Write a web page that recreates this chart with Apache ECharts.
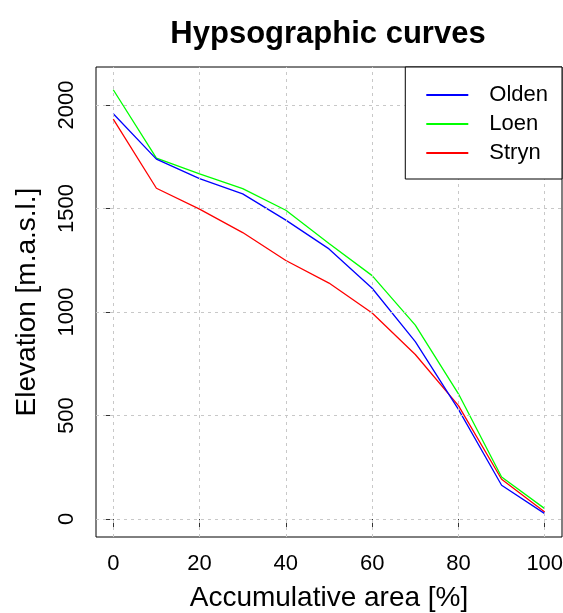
<!DOCTYPE html>
<html>
<head>
<meta charset="utf-8">
<script src="https://cdn.jsdelivr.net/npm/echarts@6/dist/echarts.min.js"></script>
<style>html,body{margin:0;padding:0;background:#fff}#c{width:563px;height:613px}</style>
</head>
<body>
<div id="c"></div>
<script>
const area = [0, 10, 20, 30, 40, 50, 60, 70, 80, 90, 100];
const olden = [1958, 1739, 1645, 1571, 1444, 1305, 1115, 857, 530, 163, 26];
const loen = [2074, 1744, 1668, 1596, 1492, 1331, 1176, 937, 605, 203, 50];
const stryn = [1932, 1598, 1497, 1384, 1249, 1140, 995, 795, 548, 192, 34];
const xTicks = [0, 20, 40, 60, 80, 100];
const yTicks = [0, 500, 1000, 1500, 2000];

const FONT = 'Liberation Sans';
const chart = echarts.init(document.getElementById('c'));
function pts(v) { return area.map((a, i) => [a, v[i]]); }
const gridLines = [];
xTicks.forEach(v => gridLines.push({ xAxis: v }));
yTicks.forEach(v => gridLines.push({ yAxis: v }));

chart.setOption({
  animation: false,
  backgroundColor: '#fff',
  textStyle: { fontFamily: FONT },
  title: {
    text: 'Hypsographic curves', left: 323, top: 14, textAlign: 'center',
    textStyle: { fontFamily: FONT, fontWeight: 'bold', fontSize: 31, color: '#000' }
  },
  grid: { left: 96, right: 1, top: 67, bottom: 76, outerBoundsMode: 'none', containLabel: false,
    show: true, borderColor: '#000', borderWidth: 1, backgroundColor: 'transparent' },
  legend: {
    orient: 'vertical', right: 1, top: 67, z: 10,
    backgroundColor: '#fff',
    borderColor: '#000', borderWidth: 1,
    padding: [17, 14, 15, 21],
    itemWidth: 42, itemHeight: 2, itemGap: 7,
    icon: 'rect',
    textStyle: { fontFamily: FONT, fontSize: 22, color: '#000', lineHeight: 20, padding: [0, 0, 0, 16] },
    data: ['Olden', 'Loen', 'Stryn']
  },
  xAxis: {
    type: 'value', min: -4, max: 104,
    name: 'Accumulative area [%]', nameLocation: 'middle', nameGap: 47,
    nameTextStyle: { fontFamily: FONT, fontSize: 28, color: '#000' },
    axisLine: { show: false },
    axisTick: { show: true, length: 10, lineStyle: { color: '#333' }, customValues: xTicks },
    axisLabel: { fontFamily: FONT, fontSize: 22, color: '#000', margin: 16, customValues: xTicks,
      formatter: v => String(v) },
    splitLine: { show: false }
  },
  yAxis: {
    type: 'value', min: -87, max: 2184,
    name: 'Elevation [m.a.s.l.]', nameLocation: 'middle', nameGap: 55,
    nameTextStyle: { fontFamily: FONT, fontSize: 28, color: '#000' },
    axisLine: { show: false },
    axisTick: { show: true, length: 10, lineStyle: { color: '#333' }, customValues: yTicks },
    axisLabel: { fontFamily: FONT, fontSize: 22, color: '#000', margin: 18, rotate: 90, customValues: yTicks,
      formatter: v => String(v) },
    splitLine: { show: false }
  },
  series: [
    { name: 'gridlines', type: 'line', data: [], symbol: 'none', z: 0,
      markLine: { silent: true, symbol: 'none', label: { show: false }, lineStyle: { type: [3, 4], color: '#c8c8c8', width: 1 }, data: gridLines } },
    { name: 'Olden', type: 'line', data: pts(olden), symbol: 'none', color: '#0000ff', lineStyle: { width: 1.3, color: '#0000ff' }, z: 3 },
    { name: 'Loen', type: 'line', data: pts(loen), symbol: 'none', color: '#00ff00', lineStyle: { width: 1.3, color: '#00ff00' }, z: 2 },
    { name: 'Stryn', type: 'line', data: pts(stryn), symbol: 'none', color: '#ff0000', lineStyle: { width: 1.3, color: '#ff0000' }, z: 1 }
  ]
});
</script>
</body>
</html>
